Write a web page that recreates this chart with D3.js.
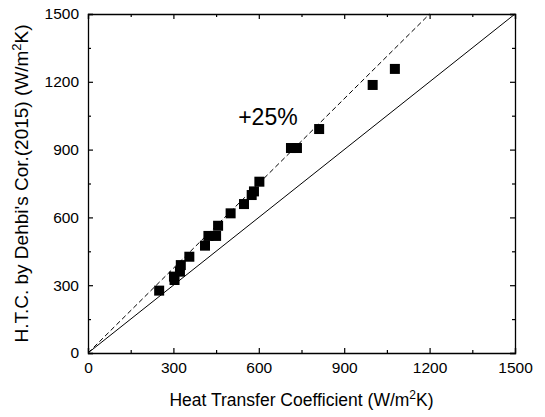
<!DOCTYPE html>
<html><head><meta charset="utf-8">
<script src="https://cdn.jsdelivr.net/npm/d3@7"></script>
<style>body{margin:0;background:#fff}svg{display:block}text{font-family:"Liberation Sans",Arial,sans-serif;fill:#000}</style>
</head><body>
<script>
const measured = [250, 302, 304, 323, 326, 356, 411, 423, 450, 457, 501, 548, 575, 583, 602, 713, 734, 812, 1000, 1078];
const predicted = [276, 338, 323, 360, 389, 426, 475, 518, 518, 563, 618, 659, 699, 715, 758, 907, 907, 991, 1186, 1257];
const majorTicks = [0, 300, 600, 900, 1200, 1500];
const minorTicks = [150, 450, 750, 1050, 1350];
const annotation = {text: "+25%", x: 632, y: 1044};

const W = 545, H = 417;
const m = {l: 88, r: 515, t: 14, b: 353};
const svg = d3.select("body").append("svg").attr("width", W).attr("height", H);
const x = d3.scaleLinear().domain([0, 1500]).range([m.l, m.r]);
const y = d3.scaleLinear().domain([0, 1500]).range([m.b, m.t]);

// reference lines
const line = d3.line().x(d => x(d[0])).y(d => y(d[1]));
svg.append("path").attr("d", line([[0,0],[1500,1500]])).attr("stroke","#000").attr("stroke-width",1).attr("fill","none");
svg.append("path").attr("d", line([[0,0],[1200,1500]])).attr("stroke","#000").attr("stroke-width",1).attr("stroke-dasharray","5,3").attr("fill","none");

// axes: inward ticks
function addAxis(axisGen, transform, showLabels) {
  const g = svg.append("g").attr("transform", transform);
  g.call(axisGen.tickValues(majorTicks).tickSize(-5).tickPadding(showLabels ? 9 : 0).tickFormat(showLabels ? d3.format("d") : ""));
  g.selectAll("text").style("font-size","15.5px").style("font-family",'"Liberation Sans",Arial,sans-serif');
  g.select(".domain").attr("stroke-width",1.3);
  g.selectAll(".tick line").attr("stroke-width",1.2);
  return g;
}
function addMinor(axisGen, transform) {
  const g = svg.append("g").attr("transform", transform);
  g.call(axisGen.tickValues(minorTicks).tickSize(-3).tickFormat(""));
  g.select(".domain").remove();
  g.selectAll(".tick line").attr("stroke-width",1.2);
}
addAxis(d3.axisBottom(x), `translate(0,${m.b})`, true);
addMinor(d3.axisBottom(x), `translate(0,${m.b})`);
addAxis(d3.axisTop(x), `translate(0,${m.t})`, false);
addMinor(d3.axisTop(x), `translate(0,${m.t})`);
addAxis(d3.axisLeft(y), `translate(${m.l},0)`, true);
addMinor(d3.axisLeft(y), `translate(${m.l},0)`);
addAxis(d3.axisRight(y), `translate(${m.r},0)`, false);
addMinor(d3.axisRight(y), `translate(${m.r},0)`);

// data points
const data = measured.map((v,i) => [v, predicted[i]]);
const s = 10;
svg.append("g").selectAll("rect").data(data).join("rect")
  .attr("x", d => x(d[0]) - s/2).attr("y", d => y(d[1]) - s/2)
  .attr("width", s).attr("height", s).attr("fill", "#000");

// annotation
svg.append("text").attr("x", x(annotation.x)).attr("y", y(annotation.y)).attr("dy","0.35em")
  .attr("text-anchor","middle").style("font-size","23px").text(annotation.text);

// axis titles
const xt = svg.append("text").attr("x", (m.l+m.r)/2).attr("y", 406).attr("text-anchor","middle").style("font-size","17.5px");
xt.append("tspan").text("Heat Transfer Coefficient (W/m");
xt.append("tspan").attr("dy","-7").style("font-size","12px").text("2");
xt.append("tspan").attr("dy","7").text("K)");

const yt = svg.append("text").attr("transform", `translate(28,${(m.t+m.b)/2}) rotate(-90)`).attr("text-anchor","middle").style("font-size","19px");
yt.append("tspan").text("H.T.C. by Dehbi's Cor.(2015) (W/m");
yt.append("tspan").attr("dy","-7").style("font-size","13px").text("2");
yt.append("tspan").attr("dy","7").text("K)");
</script>
</body></html>
